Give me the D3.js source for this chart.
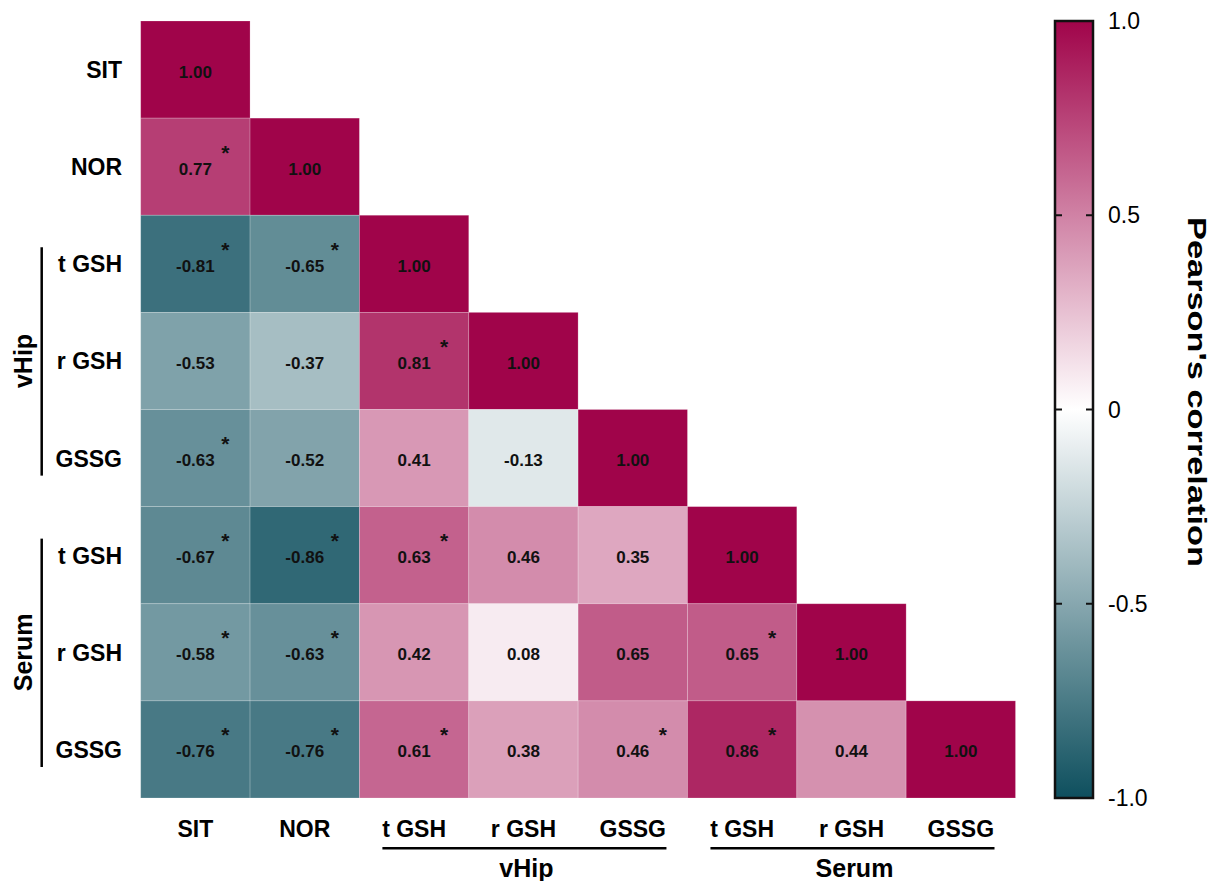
<!DOCTYPE html>
<html>
<head>
<meta charset="utf-8">
<script src="https://cdn.jsdelivr.net/npm/d3@7"></script>
<style>
  html, body { margin: 0; padding: 0; background: #fff; }
  svg { display: block; font-family: "Liberation Sans", Arial, Helvetica, sans-serif; }
</style>
</head>
<body>
<svg id="chart" width="1227" height="881"></svg>
<script>
// Variable names (rows top to bottom, columns left to right)
const variables = ["SIT", "NOR", "t GSH", "r GSH", "GSSG", "t GSH", "r GSH", "GSSG"];

// Lower-triangle Pearson coefficients, one array per row
const rowSIT      = [1.00];
const rowNOR      = [0.77, 1.00];
const rowHipTGSH  = [-0.81, -0.65, 1.00];
const rowHipRGSH  = [-0.53, -0.37, 0.81, 1.00];
const rowHipGSSG  = [-0.63, -0.52, 0.41, -0.13, 1.00];
const rowSerTGSH  = [-0.67, -0.86, 0.63, 0.46, 0.35, 1.00];
const rowSerRGSH  = [-0.58, -0.63, 0.42, 0.08, 0.65, 0.65, 1.00];
const rowSerGSSG  = [-0.76, -0.76, 0.61, 0.38, 0.46, 0.86, 0.44, 1.00];

// Significance flags (1 = p < 0.05), same shape as the coefficients
const sigSIT      = [0];
const sigNOR      = [1, 0];
const sigHipTGSH  = [1, 1, 0];
const sigHipRGSH  = [0, 0, 1, 0];
const sigHipGSSG  = [1, 0, 0, 0, 0];
const sigSerTGSH  = [1, 1, 1, 0, 0, 0];
const sigSerRGSH  = [1, 1, 0, 0, 0, 1, 0];
const sigSerGSSG  = [1, 1, 1, 0, 1, 1, 0, 0];

// Tissue groups: label and the index span they cover
const groupNames = ["vHip", "Serum"];
const groupStart = [2, 5];
const groupEnd   = [4, 7];

// Colour bar ticks
const barTicks = [1.0, 0.5, 0, -0.5, -1.0];
const barTickLabels = ["1.0", "0.5", "0", "-0.5", "-1.0"];

const corrRows = [rowSIT, rowNOR, rowHipTGSH, rowHipRGSH, rowHipGSSG, rowSerTGSH, rowSerRGSH, rowSerGSSG];
const sigRows  = [sigSIT, sigNOR, sigHipTGSH, sigHipRGSH, sigHipGSSG, sigSerTGSH, sigSerRGSH, sigSerGSSG];

const cells = [];
corrRows.forEach((row, i) => row.forEach((v, j) => cells.push({ i, j, v, sig: sigRows[i][j] })));

// Two decimals with a plain hyphen for negatives
const fmt = v => (v < 0 ? "-" : "") + Math.abs(v).toFixed(2);

const svg = d3.select("#chart");

const x = d3.scaleBand().domain(d3.range(variables.length)).range([140.7, 1015.5]).padding(0);
const y = d3.scaleBand().domain(d3.range(variables.length)).range([21, 798]).padding(0);

const color = d3.scaleLinear()
  .domain([-1, 0, 1])
  .range(["#0e4f5e", "#ffffff", "#a0044a"])
  .interpolate(d3.interpolateRgb);

// Heatmap cells
const g = svg.append("g");
g.selectAll("rect.cell")
  .data(cells)
  .join("rect")
  .attr("class", "cell")
  .attr("x", d => x(d.j))
  .attr("y", d => y(d.i))
  .attr("width", x.bandwidth())
  .attr("height", y.bandwidth())
  .attr("fill", d => color(d.v))
  .attr("stroke", "rgba(255,255,255,0.25)")
  .attr("stroke-width", 0.8);

// Coefficient labels
g.selectAll("text.val")
  .data(cells)
  .join("text")
  .attr("class", "val")
  .attr("x", d => x(d.j) + x.bandwidth() / 2)
  .attr("y", d => y(d.i) + y.bandwidth() / 2 + 8)
  .attr("text-anchor", "middle")
  .attr("font-size", 17)
  .attr("font-weight", "bold")
  .attr("fill", "#111")
  .text(d => fmt(d.v));

// Significance stars
g.selectAll("text.sig")
  .data(cells.filter(d => d.sig))
  .join("text")
  .attr("class", "sig")
  .attr("x", d => x(d.j) + x.bandwidth() / 2 + 30)
  .attr("y", d => y(d.i) + y.bandwidth() / 2 - 7)
  .attr("text-anchor", "middle")
  .attr("font-size", 21)
  .attr("font-weight", "bold")
  .attr("fill", "#111")
  .text("*");

// Row labels
svg.append("g").selectAll("text")
  .data(variables)
  .join("text")
  .attr("x", 122)
  .attr("y", (d, i) => y(i) + y.bandwidth() / 2 + 8.5)
  .attr("text-anchor", "end")
  .attr("font-size", 23)
  .attr("font-weight", "bold")
  .attr("fill", "#000")
  .text(d => d);

// Column labels
svg.append("g").selectAll("text")
  .data(variables)
  .join("text")
  .attr("x", (d, i) => x(i) + x.bandwidth() / 2)
  .attr("y", 837)
  .attr("text-anchor", "middle")
  .attr("font-size", 23)
  .attr("font-weight", "bold")
  .attr("fill", "#000")
  .text(d => d);

// Group brackets on the left (rows) and bottom (columns)
groupNames.forEach((name, k) => {
  const r0 = y(groupStart[k]) + 32, r1 = y(groupEnd[k]) + y.bandwidth() - 31;
  svg.append("line")
    .attr("x1", 41.7).attr("x2", 41.7)
    .attr("y1", r0).attr("y2", r1)
    .attr("stroke", "#000").attr("stroke-width", 2.5);
  const cy = (y(groupStart[k]) + y(groupEnd[k]) + y.bandwidth()) / 2;
  svg.append("text")
    .attr("transform", `translate(32,${cy}) rotate(-90)`)
    .attr("text-anchor", "middle")
    .attr("font-size", 25)
    .attr("font-weight", "bold")
    .attr("fill", "#000")
    .text(name);

  const c0 = x(groupStart[k]) + 23, c1 = x(groupEnd[k]) + x.bandwidth() - 21;
  svg.append("line")
    .attr("x1", c0).attr("x2", c1)
    .attr("y1", 848.3).attr("y2", 848.3)
    .attr("stroke", "#000").attr("stroke-width", 2.5);
  svg.append("text")
    .attr("x", (c0 + c1) / 2 + 2)
    .attr("y", 877)
    .attr("text-anchor", "middle")
    .attr("font-size", 25)
    .attr("font-weight", "bold")
    .attr("fill", "#000")
    .text(name);
});

// Colour bar
const barX = 1055, barW = 38;
const barScale = d3.scaleLinear().domain([-1, 1]).range([798, 21]);

const defs = svg.append("defs");
const grad = defs.append("linearGradient")
  .attr("id", "corrGrad")
  .attr("x1", "0").attr("y1", "1").attr("x2", "0").attr("y2", "0");
d3.range(-1, 1.0001, 0.1).forEach(v => {
  grad.append("stop")
    .attr("offset", `${((v + 1) / 2) * 100}%`)
    .attr("stop-color", color(v));
});

svg.append("rect")
  .attr("x", barX).attr("y", barScale(1))
  .attr("width", barW).attr("height", barScale(-1) - barScale(1))
  .attr("fill", "url(#corrGrad)")
  .attr("stroke", "#111").attr("stroke-width", 2.5);

const inner = barTicks.filter(t => Math.abs(t) < 1);
svg.append("g").selectAll("line.tl")
  .data(inner).join("line")
  .attr("x1", barX).attr("x2", barX + 7)
  .attr("y1", d => barScale(d)).attr("y2", d => barScale(d))
  .attr("stroke", "#111").attr("stroke-width", 2);
svg.append("g").selectAll("line.tr")
  .data(inner).join("line")
  .attr("x1", barX + barW - 7).attr("x2", barX + barW)
  .attr("y1", d => barScale(d)).attr("y2", d => barScale(d))
  .attr("stroke", "#111").attr("stroke-width", 2);

svg.append("g").selectAll("text")
  .data(barTicks).join("text")
  .attr("x", 1108)
  .attr("y", d => barScale(d) + 8)
  .attr("font-size", 23)
  .attr("fill", "#000")
  .text((d, i) => barTickLabels[i]);

svg.append("text")
  .attr("transform", "translate(1188,392) rotate(90)")
  .attr("text-anchor", "middle")
  .attr("font-size", 26)
  .attr("font-weight", "bold")
  .attr("fill", "#000")
  .attr("textLength", 350)
  .attr("lengthAdjust", "spacingAndGlyphs")
  .text("Pearson's correlation");
</script>
</body>
</html>
